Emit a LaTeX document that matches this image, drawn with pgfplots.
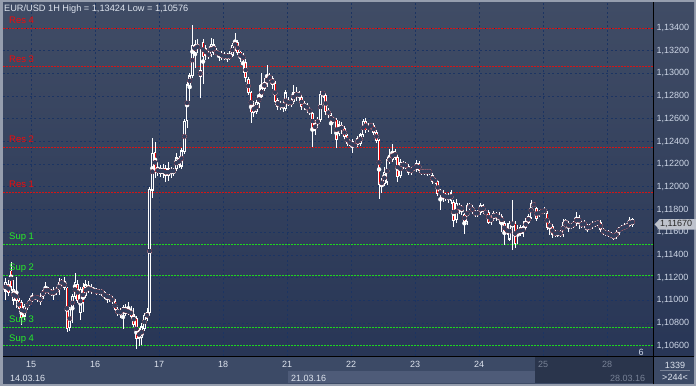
\documentclass[border=0pt]{standalone}
\usepackage{pgfplots}
\pgfplotsset{compat=1.18}
\usepackage{pgfplotstable}
\usetikzlibrary{backgrounds}
\usepackage{fontspec}
\setmainfont{Liberation Sans}
\definecolor{frame}{RGB}{150,158,174}
\definecolor{bgtop}{RGB}{64,76,101}
\definecolor{bgbot}{RGB}{40,54,86}
\definecolor{gridc}{RGB}{28,52,98}
\definecolor{strip}{RGB}{60,74,102}
\definecolor{stripl}{RGB}{78,91,120}
\definecolor{stripd}{RGB}{42,53,76}
\definecolor{txt}{RGB}{222,228,238}
\definecolor{tickc}{RGB}{205,214,230}
\definecolor{tickgray}{RGB}{120,130,150}
\definecolor{resc}{RGB}{215,20,20}
\definecolor{restxt}{RGB}{240,10,10}
\definecolor{supc}{RGB}{30,215,30}
\definecolor{suptxt}{RGB}{40,235,40}
\definecolor{upin}{RGB}{50,64,95}
\definecolor{dnin}{RGB}{235,0,0}
\definecolor{pricebox}{RGB}{190,194,204}

\pgfplotstableread{
h o hi lo c
-10 1.1108 1.1120 1.1100 1.1116
-9 1.1114 1.1118 1.1104 1.1107
-8 1.1126 1.1134 1.1108 1.1112
-7 1.1100 1.1118 1.1096 1.1110
-6 1.1107 1.1121 1.1093 1.1100
-5 1.1100 1.1102 1.1090 1.1093
-4 1.1098 1.1100 1.1078 1.1085
-3 1.1086 1.1097 1.1083 1.1095
-2 1.1094 1.1099 1.1092 1.1097
-1 1.1097 1.1102 1.1095 1.1099
0 1.1100 1.1107 1.1099 1.1103
1 1.1102 1.1105 1.1100 1.1104
2 1.1104 1.1105 1.1099 1.1101
3 1.1099 1.1107 1.1096 1.1103
4 1.1103 1.1110 1.1101 1.1109
5 1.1108 1.1116 1.1106 1.1110
6 1.1110 1.1112 1.1106 1.1108
7 1.1108 1.1110 1.1104 1.1106
8 1.1106 1.1112 1.1100 1.1108
9 1.1107 1.1112 1.1105 1.1110
10 1.1108 1.1120 1.1105 1.1116
11 1.1115 1.1119 1.1113 1.1117
12 1.1117 1.1121 1.1109 1.1111
13 1.1111 1.1112 1.1072 1.1075
14 1.1076 1.1094 1.1073 1.1092
15 1.1092 1.1106 1.1080 1.1104
16 1.1103 1.1124 1.1101 1.1116
17 1.1114 1.1118 1.1098 1.1100
18 1.1089 1.1112 1.1083 1.1110
19 1.1112 1.1115 1.1090 1.1098
20 1.1104 1.1118 1.1102 1.1114
21 1.1109 1.1117 1.1107 1.1112
22 1.1111 1.1114 1.1106 1.1108
23 1.1108 1.1112 1.1107 1.1109
24 1.1109 1.1111 1.1105 1.1107
25 1.1107 1.1110 1.1105 1.1108
26 1.1108 1.1110 1.1104 1.1107
27 1.1107 1.1108 1.1101 1.1103
28 1.1103 1.1106 1.1098 1.1104
29 1.1104 1.1106 1.1099 1.1102
30 1.1102 1.1104 1.1097 1.1099
31 1.1099 1.1101 1.1090 1.1092
32 1.1092 1.1094 1.1086 1.1088
33 1.1088 1.1093 1.1085 1.1091
34 1.1089 1.1096 1.1075 1.1094
35 1.1094 1.1097 1.1086 1.1088
36 1.1088 1.1099 1.1087 1.1092
37 1.1092 1.1095 1.1084 1.1086
38 1.1088 1.1093 1.1077 1.1079
39 1.1084 1.1086 1.10576 1.1066
40 1.1066 1.1076 1.1060 1.1074
41 1.1067 1.1080 1.1061 1.1077
42 1.1075 1.1089 1.1073 1.1087
43 1.1084 1.1093 1.1082 1.1090
44 1.1089 1.1200 1.1086 1.1198
45 1.1197 1.1243 1.1190 1.1230
46 1.1230 1.1240 1.1208 1.1213
47 1.1213 1.1222 1.1210 1.1216
48 1.1216 1.1219 1.1209 1.1212
49 1.1212 1.1220 1.1208 1.1216
50 1.1216 1.1219 1.1204 1.1210
51 1.1210 1.1222 1.1205 1.1216
52 1.1215 1.1218 1.1208 1.1213
53 1.1213 1.1217 1.1210 1.1215
54 1.1216 1.1230 1.1214 1.1226
55 1.1225 1.1227 1.1217 1.1220
56 1.1218 1.1234 1.1216 1.1232
57 1.1231 1.1260 1.1229 1.1258
58 1.1258 1.1292 1.1252 1.1290
59 1.1289 1.1300 1.1276 1.1298
60 1.1298 1.13424 1.1296 1.1325
61 1.1318 1.1329 1.1305 1.1326
62 1.1325 1.1330 1.1318 1.1322
63 1.1297 1.1322 1.1278 1.1303
64 1.1327 1.1330 1.1291 1.1315
65 1.1322 1.1325 1.1312 1.1316
66 1.1316 1.1320 1.1313 1.1317
67 1.1316 1.1331 1.1314 1.1326
68 1.1318 1.1330 1.1316 1.1326
69 1.1319 1.1322 1.1316 1.1318
70 1.1318 1.1320 1.1311 1.1317
71 1.1318 1.1320 1.1312 1.1314
72 1.1314 1.1319 1.1312 1.1316
73 1.1316 1.1318 1.1310 1.1314
74 1.1314 1.1320 1.1312 1.1316
75 1.1316 1.1327 1.1314 1.1325
76 1.1324 1.1336 1.1320 1.1327
77 1.1327 1.1329 1.1316 1.1318
78 1.1319 1.1320 1.1310 1.1313
79 1.1316 1.1318 1.1300 1.1312
80 1.1310 1.1313 1.1292 1.1296
81 1.1295 1.1297 1.1281 1.1283
82 1.1283 1.1285 1.1256 1.1266
83 1.1265 1.1276 1.1262 1.1272
84 1.1266 1.1277 1.1264 1.1275
85 1.1273 1.1290 1.1270 1.1281
86 1.1280 1.1300 1.1278 1.1287
87 1.1287 1.1296 1.1285 1.1292
88 1.1291 1.1307 1.1288 1.1297
89 1.1297 1.1300 1.1293 1.1296
90 1.1296 1.1298 1.1286 1.1290
91 1.1291 1.1293 1.1272 1.1275
92 1.1276 1.1278 1.1268 1.1271
93 1.1271 1.1276 1.1268 1.1273
94 1.1274 1.1276 1.1266 1.1270
95 1.1269 1.1285 1.1267 1.1283
96 1.1276 1.1279 1.1271 1.1273
97 1.1273 1.1278 1.1270 1.1276
98 1.1275 1.1290 1.1273 1.1283
99 1.1282 1.1288 1.1276 1.1281
100 1.1283 1.1285 1.1276 1.1279
101 1.1279 1.1281 1.1268 1.1271
102 1.1271 1.1276 1.1268 1.1272
103 1.1272 1.1274 1.1265 1.1268
104 1.1268 1.1270 1.1263 1.1266
105 1.1265 1.1266 1.1235 1.1251
106 1.1250 1.1259 1.1246 1.1256
107 1.1256 1.1262 1.1252 1.1259
108 1.1259 1.1285 1.1257 1.1282
109 1.1282 1.1285 1.1278 1.1283
110 1.1281 1.1283 1.1263 1.1266
111 1.1267 1.1270 1.1261 1.1264
112 1.1263 1.1265 1.1247 1.1258
113 1.1258 1.1262 1.1256 1.1260
114 1.1259 1.1261 1.1234 1.1242
115 1.1247 1.1258 1.1245 1.1255
116 1.1254 1.1257 1.1247 1.1250
117 1.1252 1.1254 1.1242 1.1244
118 1.1245 1.1247 1.1236 1.1238
119 1.1238 1.1242 1.1236 1.1240
120 1.1240 1.1242 1.1230 1.1235
121 1.1236 1.1239 1.1234 1.1237
122 1.1237 1.1245 1.1235 1.1243
123 1.1238 1.1248 1.1236 1.1246
124 1.1246 1.1260 1.1244 1.1258
125 1.1258 1.1261 1.1248 1.1250
126 1.1250 1.1256 1.1248 1.1254
127 1.1253 1.1256 1.1252 1.1255
128 1.1254 1.1256 1.1246 1.1248
129 1.1248 1.1250 1.1239 1.1241
130 1.1241 1.1242 1.1189 1.1202
131 1.1202 1.1208 1.1195 1.1205
132 1.1203 1.1218 1.1201 1.1213
133 1.1204 1.1226 1.1202 1.1224
134 1.1222 1.1233 1.1220 1.1226
135 1.1224 1.1238 1.1222 1.1231
136 1.1231 1.1233 1.1224 1.1226
137 1.1226 1.1228 1.1204 1.1209
138 1.1210 1.1225 1.1208 1.1222
139 1.1221 1.1223 1.1216 1.1218
140 1.1218 1.1222 1.1216 1.1220
141 1.1218 1.1220 1.1211 1.1213
142 1.1213 1.1218 1.1211 1.1216
143 1.1216 1.1218 1.1214 1.1217
144 1.1215 1.1224 1.1213 1.1221
145 1.1221 1.1223 1.1212 1.1214
146 1.1214 1.1216 1.1211 1.1213
147 1.1213 1.1216 1.1211 1.1214
148 1.1214 1.1216 1.1210 1.1213
149 1.1213 1.1216 1.1211 1.1214
150 1.1210 1.1212 1.1203 1.1205
151 1.1205 1.1208 1.1203 1.1206
152 1.1205 1.1206 1.1192 1.1194
153 1.1194 1.1198 1.1180 1.1196
154 1.1195 1.1197 1.1187 1.1190
155 1.1190 1.1195 1.1188 1.1193
156 1.1192 1.1195 1.1186 1.1190
157 1.1188 1.1197 1.1185 1.1195
158 1.1186 1.1188 1.1165 1.1170
159 1.1171 1.1189 1.1168 1.1186
160 1.1184 1.1186 1.1176 1.1180
161 1.1180 1.1184 1.1175 1.1182
162 1.1176 1.1177 1.1159 1.1169
163 1.1169 1.1186 1.1166 1.1184
164 1.1184 1.1186 1.1180 1.1182
165 1.1182 1.1184 1.1176 1.1178
166 1.1178 1.1180 1.1174 1.1176
167 1.1176 1.1180 1.1174 1.1178
168 1.1177 1.1186 1.1175 1.1184
169 1.1184 1.1185 1.1176 1.1178
170 1.1178 1.1180 1.1175 1.1177
171 1.1178 1.1180 1.1167 1.1169
172 1.1169 1.1175 1.1166 1.1173
173 1.1172 1.1179 1.1170 1.1177
174 1.1177 1.1178 1.1170 1.1173
175 1.1172 1.1178 1.1167 1.1175
176 1.1174 1.1176 1.1160 1.1168
177 1.1168 1.1170 1.1149 1.1160
178 1.1160 1.1168 1.1158 1.1163
179 1.1154 1.1170 1.1152 1.1168
180 1.1166 1.1188 1.1144 1.1169
181 1.1168 1.1170 1.1146 1.1150
182 1.1159 1.1166 1.1150 1.1163
183 1.1164 1.1166 1.1157 1.1159
184 1.1159 1.1170 1.1156 1.1165
185 1.1164 1.1173 1.1162 1.1170
186 1.1169 1.1176 1.1167 1.1174
187 1.1173 1.1188 1.1172 1.1186
188 1.1185 1.1187 1.1182 1.1184
189 1.1181 1.1182 1.1170 1.1172
190 1.1176 1.1180 1.1174 1.1178
191 1.1178 1.1181 1.1176 1.1179
192 1.1178 1.1182 1.1176 1.1180
193 1.1177 1.1179 1.1162 1.1164
194 1.1164 1.1171 1.1158 1.1168
195 1.1165 1.1167 1.1155 1.1158
196 1.1158 1.1162 1.1156 1.1160
197 1.1160 1.1161 1.1156 1.1159
198 1.1160 1.1162 1.1156 1.1158
199 1.1158 1.1172 1.1156 1.1169
200 1.1168 1.1172 1.1166 1.1169
201 1.1168 1.1170 1.1160 1.1164
202 1.1165 1.1168 1.1163 1.1166
203 1.1166 1.1170 1.1164 1.1168
204 1.1168 1.1178 1.1166 1.1173
205 1.1173 1.1175 1.1163 1.1168
206 1.1166 1.1170 1.1164 1.1168
207 1.1169 1.1171 1.1164 1.1166
208 1.1165 1.1167 1.1160 1.1164
209 1.1164 1.1167 1.1162 1.1165
210 1.1165 1.1170 1.1163 1.1168
211 1.1167 1.1170 1.1165 1.1168
212 1.1168 1.1171 1.1166 1.1169
213 1.1169 1.1171 1.1160 1.1162
214 1.1162 1.1164 1.1158 1.1160
215 1.1160 1.1162 1.1157 1.1159
216 1.1160 1.1162 1.1156 1.1158
217 1.1158 1.1160 1.1155 1.1157
218 1.1158 1.1159 1.1153 1.1155
219 1.1156 1.1162 1.1154 1.1160
220 1.1160 1.1165 1.1158 1.1164
221 1.1163 1.1166 1.1161 1.1164
222 1.1164 1.1168 1.1162 1.1165
223 1.1165 1.1168 1.1164 1.1166
224 1.1166 1.1174 1.1165 1.1171
225 1.1171 1.1173 1.1165 1.1167
}\candles

\begin{document}
\begin{tikzpicture}[x=1pt,y=1pt]
\begin{axis}[
  scale only axis,
  width=650pt, height=353pt,
  xmin=-10.5, xmax=233.2, ymin=1.10510, ymax=1.13620,
  axis line style={draw=none},
  major tick length=0pt,
  tick style={draw=none},
  grid=major,
  major grid style={gridc, line width=0.8pt, dash pattern=on 2pt off 2.5pt},
  xtick={0,24,48,72,96,120,144,168,192,216},
  xticklabels={15,16,17,18,21,22,23,24,\textcolor{tickgray}{25},\textcolor{tickgray}{28}},
  xticklabel style={font=\fontsize{9}{10}\selectfont, text=txt, yshift=-1.5pt},
  ytick={1.106,1.108,1.110,1.112,1.114,1.116,1.118,1.120,1.122,1.124,1.126,1.128,1.130,1.132,1.134},
  yticklabel pos=right,
  yticklabel style={font=\fontsize{9}{10}\selectfont, text=tickc, anchor=west},
  /pgf/number format/.cd, fixed, fixed zerofill, precision=5, use comma, assume math mode=true,
]
\coordinate (SW) at (rel axis cs:0,0);
% support / resistance levels
\foreach \lv in {1.1340,1.1306,1.1235,1.1195}{
  \edef\temp{\noexpand\addplot[resc, line width=0.75pt, dash pattern=on 2pt off 1pt, forget plot] coordinates {(-10.5,\lv) (233.2,\lv)};}
  \temp
}
\foreach \lv in {1.1149,1.1122,1.1076,1.1060}{
  \edef\temp{\noexpand\addplot[supc, line width=0.75pt, dash pattern=on 2pt off 1pt, forget plot] coordinates {(-10.5,\lv) (233.2,\lv)};}
  \temp
}
% wicks
\addplot[white, only marks, mark=none, forget plot,
  error bars/.cd, y dir=both, y explicit, error mark=none,
  error bar style={draw=white, line width=0.9pt}]
  table[x expr=\thisrow{h}+0.5, y expr={(\thisrow{hi}+\thisrow{lo})/2},
        y error expr={(\thisrow{hi}-\thisrow{lo})/2}] {\candles};
% bodies
\addplot[white, only marks, mark=none, forget plot,
  error bars/.cd, y dir=both, y explicit, error mark=none,
  error bar style={draw=white, line width=2.6pt}]
  table[x expr=\thisrow{h}+0.5, y expr={(\thisrow{o}+\thisrow{c})/2},
        y error expr={abs(\thisrow{o}-\thisrow{c})/2+0.00003}] {\candles};
% inner of falling candles
\addplot[dnin, only marks, mark=none, forget plot,
  error bars/.cd, y dir=both, y explicit, error mark=none,
  error bar style={draw=dnin, line width=0.9pt}]
  table[x expr=\thisrow{h}+0.5, y expr={(\thisrow{o}+\thisrow{c})/2},
        y error expr={(\thisrow{c}<\thisrow{o})*max(abs(\thisrow{o}-\thisrow{c})/2-0.00005,0)}] {\candles};
% inner of rising candles
\addplot[upin, only marks, mark=none, forget plot,
  error bars/.cd, y dir=both, y explicit, error mark=none,
  error bar style={draw=upin, line width=0.7pt}]
  table[x expr=\thisrow{h}+0.5, y expr={(\thisrow{o}+\thisrow{c})/2},
        y error expr={(\thisrow{c}>\thisrow{o})*max(abs(\thisrow{o}-\thisrow{c})/2-0.00009,0)}] {\candles};
\end{axis}
\begin{scope}[shift={(SW)}]
\begin{scope}[shift={(-3,-30)}]
\begin{scope}[on background layer]
\fill[frame] (0,0) rectangle (696,386);
\shade[top color=bgtop,bottom color=bgbot] (3,30) rectangle (694,383);
\fill[strip] (3,2) rectangle (694,29);
\fill[stripl] (288,3) rectangle (535,15);
\fill[stripd] (535,3) rectangle (653,29);
\end{scope}
% frame lines
\draw[black, line width=1pt] (653.5,2) -- (653.5,384);
\draw[black, line width=1pt] (3,29.5) -- (694,29.5);
% labels of levels
\begin{scope}[every node/.style={anchor=base west, inner sep=0pt, font=\fontsize{9.5}{10}\selectfont}]
\node[text=restxt] at (9,362.5) {Res 4};
\node[text=restxt] at (9,323.8) {Res 3};
\node[text=restxt] at (9,243.5) {Res 2};
\node[text=restxt] at (9,198.2) {Res 1};
\node[text=suptxt] at (9,146.2) {Sup 1};
\node[text=suptxt] at (9,115.2) {Sup 2};
\node[text=suptxt] at (9,63.2) {Sup 3};
\node[text=suptxt] at (9,44.2) {Sup 4};
\end{scope}
% title
\node[anchor=base west, inner sep=0pt, text=txt, font=\fontsize{9.2}{10}\selectfont] at (4,374.5) {EUR/USD 1H High = 1,13424 Low = 1,10576};
% current price box
\fill[pricebox] (654.5,161.6) -- (659.5,166.8) -- (696,166.8) -- (696,156.4) -- (659.5,156.4) -- cycle;
\node[anchor=west, inner sep=0pt, text=black!85, font=\fontsize{9}{10}\selectfont] at (660,161.6) {1,11670};
% bottom texts
\begin{scope}[every node/.style={inner sep=0pt, font=\fontsize{9}{10}\selectfont}]
\node[anchor=base west, text=txt] at (10,5) {14.03.16};
\node[anchor=base west, text=txt] at (291,5) {21.03.16};
\node[anchor=base west, text=tickgray] at (610,5) {28.03.16};
\node[anchor=base, text=txt] at (675,18) {1339};
\node[anchor=base, text=txt] at (675,5.5) {>244<};
\node[anchor=base, text=tickc] at (641,30.5) {6};
\end{scope}
\draw[tickgray] (660,15.5) -- (690,15.5);
\pgfresetboundingbox
\path[use as bounding box] (0,0) rectangle (696,386);
\end{scope}
\end{scope}
\end{tikzpicture}
\end{document}
